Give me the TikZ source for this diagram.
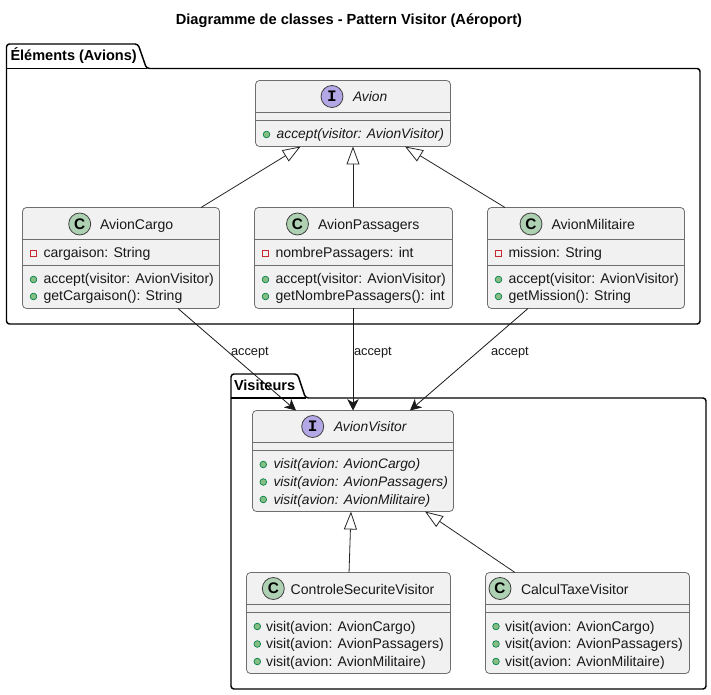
\documentclass[tikz,border=0pt]{standalone}
\usepackage{fontspec}
\setmainfont{Liberation Sans}
\newfontfamily\glyphfont{Liberation Mono}
\usetikzlibrary{arrows.meta}
\definecolor{boxfill}{HTML}{F1F1F1}
\definecolor{boxline}{HTML}{6E6E6E}
\definecolor{cicon}{HTML}{ADD1B2}
\definecolor{iicon}{HTML}{B4A7E5}
\definecolor{pubfill}{HTML}{84BE84}
\definecolor{publine}{HTML}{038048}
\definecolor{privline}{HTML}{C82930}
\tikzset{
  x=0.75pt, y=-0.75pt,
  classbox/.style={draw=boxline, fill=boxfill, line width=0.6pt, rounded corners=3pt, inner sep=0pt, outer sep=0pt},
  sepline/.style={draw=boxline, line width=0.6pt},
  pkg/.style={draw=black, line width=1.1pt, fill=white, line join=round},
  txt/.style={anchor=base west, inner sep=0pt, outer sep=0pt, font=\fontsize{10.55}{12}\selectfont, text=black!90},
  itxt/.style={txt, font=\fontsize{10.35}{12}\selectfont\itshape},
  pkgtxt/.style={txt, font=\fontsize{10.9}{12}\selectfont\bfseries, text=black},
  lbl/.style={txt, font=\fontsize{9.6}{12}\selectfont},
  pub/.style={circle, draw=publine, fill=pubfill, line width=0.5pt, minimum size=5pt, inner sep=0pt},
  priv/.style={rectangle, draw=privline, line width=0.6pt, minimum size=4.6pt, inner sep=0pt},
  ic/.style={circle, draw=black!75, line width=0.6pt, fill=cicon, minimum size=16.5pt, inner sep=0pt, font=\bfseries\fontsize{11.5}{12}\selectfont, text=black},
  ii/.style={ic, fill=iicon, font=\glyphfont\bfseries\fontsize{12}{12}\selectfont},
  inherit/.style={draw=black!85, line width=0.6pt, -{Triangle[open, fill=white, length=13.5pt, width=9.75pt]}},
  usearrow/.style={draw=black!90, line width=0.6pt, -{Stealth[length=8.5pt, width=8.5pt, inset=2.5pt]}},
}
\newcommand{\umlbox}[7]{% id x0 y0 x1 y1 sep1 sep2
  \pgfmathsetmacro{\cxx}{(#2+#4)/2}\pgfmathsetmacro{\cyy}{(#3+#5)/2}
  \pgfmathsetmacro{\ww}{(#4-#2)*0.75}\pgfmathsetmacro{\hh}{(#5-#3)*0.75}
  \node[classbox, minimum width=\ww pt, minimum height=\hh pt] (#1) at (\cxx,\cyy) {};
  \draw[sepline] (#1.west |- 0,#6) -- (#1.east |- 0,#6);
  \draw[sepline] (#1.west |- 0,#7) -- (#1.east |- 0,#7);
}
\begin{document}
\begin{tikzpicture}
\useasboundingbox (0,0) rectangle (711,695);
\fill[white] (0,0) rectangle (711,695);

\node[txt, font=\fontsize{10.98}{12}\selectfont\bfseries, text=black, anchor=base] (title) at (349,25) {Diagramme de classes - Pattern Visitor (Aéroport)};

% packages
\draw[pkg, rounded corners=2.2pt] (6.5,68.5) -- (6.5,44) -- (138,44) -- (146.5,68.5) -- (700,68.5) -- (700,324) -- (6.5,324) -- cycle;
\draw[pkg] (6.5,68.5) -- (146.5,68.5);
\node[pkgtxt] (pkgA) at (10.5,61) {Éléments (Avions)};
\draw[pkg, rounded corners=2.2pt] (231,398) -- (231,374) -- (297.5,374) -- (305.5,398) -- (706,398) -- (706,689) -- (231,689) -- cycle;
\draw[pkg] (231,398) -- (305.5,398);
\node[pkgtxt] (pkgV) at (234,390.7) {Visiteurs};

% Avion
\umlbox{avion}{255.5}{80.5}{450.5}{146.5}{112.5}{120.5}
\node[ii] (avionI) at (332,96.5) {I};
\node[itxt] (avionN) at (353,102) {Avion};
\node[pub] (avionB) at (266.5,134.5) {};
\node[itxt] (avionM) at (276.7,139) {accept(visitor: AvionVisitor)};

% AvionCargo
\umlbox{cargo}{22.5}{207.5}{219.5}{308.5}{239.5}{265.5}
\node[ic] (cargoI) at (79.7,224) {C};
\node[txt] (cargoN) at (100,229.3) {AvionCargo};
\node[priv] (cargoP) at (33.5,253.5) {};
\node[txt] (cargoA) at (43.5,258) {cargaison: String};
\node[pub] (cargoB1) at (33.5,279.5) {};
\node[txt] (cargoM1) at (43.5,284) {accept(visitor: AvionVisitor)};
\node[pub] (cargoB2) at (33.5,296.5) {};
\node[txt] (cargoM2) at (43.5,301) {getCargaison(): String};

% AvionPassagers
\umlbox{pass}{254.5}{207.5}{452.5}{308.5}{239.5}{265.5}
\node[ic] (passI) at (297.5,224) {C};
\node[txt] (passN) at (318,229.3) {AvionPassagers};
\node[priv] (passP) at (265.5,253.5) {};
\node[txt] (passA) at (275.5,258) {nombrePassagers: int};
\node[pub] (passB1) at (265.5,279.5) {};
\node[txt] (passM1) at (275.5,284) {accept(visitor: AvionVisitor)};
\node[pub] (passB2) at (265.5,296.5) {};
\node[txt] (passM2) at (275.5,301) {getNombrePassagers(): int};

% AvionMilitaire
\umlbox{mil}{487.5}{207.5}{684.5}{308.5}{239.5}{265.5}
\node[ic] (milI) at (531,224) {C};
\node[txt] (milN) at (551.5,229.3) {AvionMilitaire};
\node[priv] (milP) at (498.5,253.5) {};
\node[txt] (milA) at (508.5,258) {mission: String};
\node[pub] (milB1) at (498.5,279.5) {};
\node[txt] (milM1) at (508.5,284) {accept(visitor: AvionVisitor)};
\node[pub] (milB2) at (498.5,296.5) {};
\node[txt] (milM2) at (508.5,301) {getMission(): String};

% AvionVisitor
\umlbox{visitor}{252.5}{410.5}{453.5}{511.5}{442.5}{450.5}
\node[ii] (visitorI) at (312.7,426.5) {I};
\node[itxt] (visitorN) at (334,431.7) {AvionVisitor};
\node[pub] (visitorB1) at (263.3,464.5) {};
\node[itxt] (visitorM1) at (273.5,469) {visit(avion: AvionCargo)};
\node[pub] (visitorB2) at (263.3,482) {};
\node[itxt] (visitorM2) at (273.5,486.7) {visit(avion: AvionPassagers)};
\node[pub] (visitorB3) at (263.3,499.5) {};
\node[itxt] (visitorM3) at (273.5,504) {visit(avion: AvionMilitaire)};

% ControleSecuriteVisitor
\umlbox{ctrl}{246.5}{572.5}{450.5}{673.5}{604.5}{612.5}
\node[ic] (ctrlI) at (273.3,588.5) {C};
\node[txt] (ctrlN) at (290.7,594) {ControleSecuriteVisitor};
\node[pub] (ctrlB1) at (257.3,626.5) {};
\node[txt] (ctrlM1) at (266,631) {visit(avion: AvionCargo)};
\node[pub] (ctrlB2) at (257.3,644) {};
\node[txt] (ctrlM2) at (266,648.6) {visit(avion: AvionPassagers)};
\node[pub] (ctrlB3) at (257.3,661.5) {};
\node[txt] (ctrlM3) at (266,666) {visit(avion: AvionMilitaire)};

% CalculTaxeVisitor
\umlbox{taxe}{485.5}{572.5}{689.5}{673.5}{604.5}{612.5}
\node[ic] (taxeI) at (500,588.5) {C};
\node[txt] (taxeN) at (521,594) {CalculTaxeVisitor};
\node[pub] (taxeB1) at (496,626.5) {};
\node[txt] (taxeM1) at (505,631) {visit(avion: AvionCargo)};
\node[pub] (taxeB2) at (496,644) {};
\node[txt] (taxeM2) at (505,648.6) {visit(avion: AvionPassagers)};
\node[pub] (taxeB3) at (496,661.5) {};
\node[txt] (taxeM3) at (505,666) {visit(avion: AvionMilitaire)};

% inheritance
\draw[inherit] ([xshift=60pt]cargo.north) -- ([xshift=-39.3pt]avion.south);
\draw[inherit] ([xshift=-0.375pt]pass.north) -- (avion.south);
\draw[inherit] ([xshift=-60.75pt]mil.north) -- ([xshift=39pt]avion.south);
\draw[inherit] ([xshift=0.4pt]ctrl.north) -- ([xshift=-1.5pt]visitor.south);
\draw[inherit] ([xshift=-54.4pt]taxe.north) -- ([xshift=54pt]visitor.south);

% accept
\draw[usearrow] ([xshift=42.75pt]cargo.south) -- ([xshift=-42.75pt]visitor.north);
\draw[usearrow] ([xshift=-0.375pt]pass.south) -- (visitor.north);
\draw[usearrow] ([xshift=-43.5pt]mil.south) -- ([xshift=42.75pt]visitor.north);
\node[lbl] (acc1) at (231,355.5) {accept};
\node[lbl] (acc2) at (354,355.5) {accept};
\node[lbl] (acc3) at (491,355.5) {accept};
\end{tikzpicture}
\end{document}
